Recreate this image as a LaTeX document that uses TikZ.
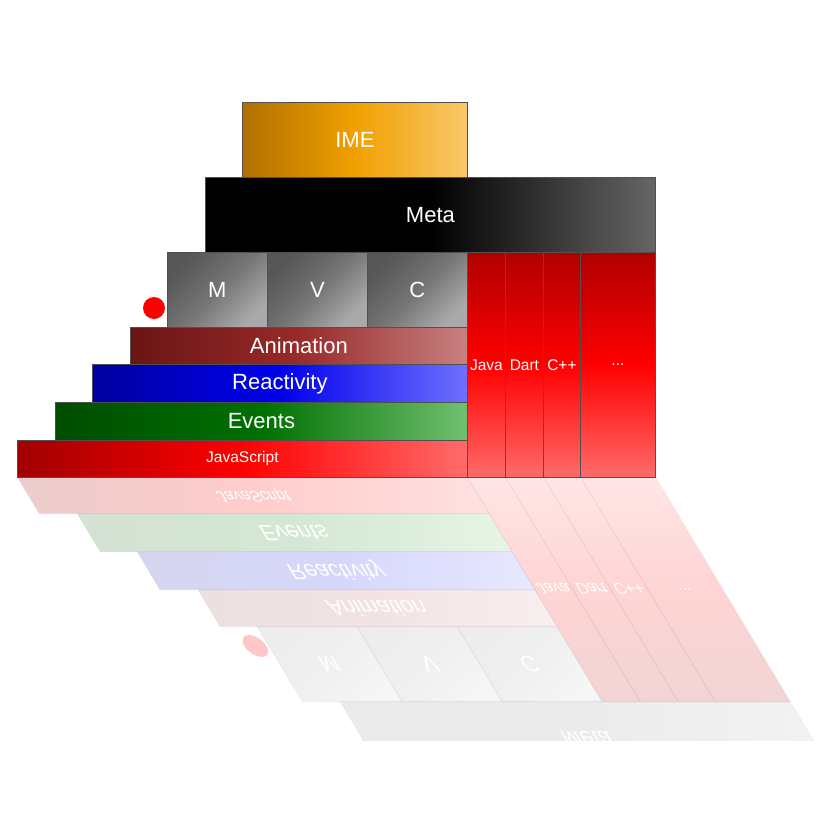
\documentclass[tikz,border=0pt]{standalone}
\usepackage{fontspec}
\setmainfont{Liberation Sans}

\definecolor{boxline}{HTML}{505050}
\definecolor{imeL}{HTML}{B07000}
\definecolor{imeM}{HTML}{F2A000}
\definecolor{imeR}{HTML}{F8C86A}
\definecolor{metaR}{HTML}{666666}
\definecolor{mvcT}{HTML}{575757}
\definecolor{mvcM}{HTML}{747474}
\definecolor{mvcB}{HTML}{AAAAAA}
\definecolor{animL}{HTML}{6A1515}
\definecolor{animM}{HTML}{982A2A}
\definecolor{animR}{HTML}{C88080}
\definecolor{reL}{HTML}{0000A0}
\definecolor{reM}{HTML}{0000EE}
\definecolor{reR}{HTML}{7070FF}
\definecolor{evL}{HTML}{004D00}
\definecolor{evM}{HTML}{007000}
\definecolor{evR}{HTML}{70C070}
\definecolor{jsL}{HTML}{A00000}
\definecolor{jsM}{HTML}{FF0000}
\definecolor{jsR}{HTML}{FF6B6B}
\definecolor{colT}{HTML}{B00000}
\definecolor{colB}{HTML}{FF6B6B}

\tikzset{
  box/.style={draw=boxline, line width=0.8pt, text=white, inner sep=0pt,
    anchor=north west, font=\fontsize{22}{26}\selectfont},
  ime/.style={box, left color=imeL, right color=imeR, middle color=imeM,
    minimum width=225pt, minimum height=75pt},
  meta/.style={box, left color=black, right color=metaR, middle color=black,
    minimum width=450pt, minimum height=75pt},
  mvc/.style={box, top color=mvcT, bottom color=mvcB, middle color=mvcM,
    shading angle=45, minimum width=100pt, minimum height=75pt},
  anim/.style={box, left color=animL, right color=animR, middle color=animM,
    minimum width=337pt, minimum height=37pt},
  react/.style={box, left color=reL, right color=reR, middle color=reM,
    minimum width=375pt, minimum height=38pt},
  events/.style={box, left color=evL, right color=evR, middle color=evM,
    minimum width=412pt, minimum height=38pt},
  js/.style={box, left color=jsL, right color=jsR, middle color=jsM,
    minimum width=450pt, minimum height=37pt, font=\fontsize{15.5}{18}\selectfont},
  lang/.style={box, top color=colT, bottom color=colB, middle color=red,
    minimum height=225pt, text depth=-6pt, font=\fontsize{15.5}{18}\selectfont},
  dot/.style={circle, fill=red, minimum size=22pt, inner sep=0pt},
  refl/.style={fill opacity=#1, draw opacity=0.05, text opacity=1},
}

\newcommand{\stack}[1]{%
  \node[ime] (#1ime) at (242,102) {IME};
  \node[meta] (#1meta) at (205,177) {Meta};
  \node[mvc] (#1m) at (167,252) {M};
  \node[mvc] (#1v) at (267,252) {V};
  \node[mvc] (#1c) at (367,252) {C};
  \node[dot] (#1dot) at (154,308) {};
  \node[anim] (#1anim) at (130,327) {Animation};
  \node[react] (#1react) at (92,364) {Reactivity};
  \node[events] (#1events) at (55,402) {Events};
  \node[js] (#1js) at (17,440) {JavaScript};
  \node[lang, minimum width=38pt] (#1java) at (467,252) {Java};
  \node[lang, minimum width=38pt] (#1dart) at (505,252) {Dart};
  \node[lang, minimum width=37pt] (#1cpp) at (543,252) {C++};
  \node[lang, minimum width=75pt] (#1more) at (580,252) {...};
}

\begin{document}
\begin{tikzpicture}[x=1pt, y=-1pt]
\useasboundingbox (0,0) rectangle (832,832);

\begin{scope}
  \clip (0,477) rectangle (832,740);
  \begin{scope}[cm={1,0,0.6,-1,(286.2pt,-954pt)},
      every node/.append style={transform shape},
      ime/.append style={refl=0.06},
      meta/.append style={refl=0.08},
      mvc/.append style={refl=0.11},
      dot/.append style={refl=0.22},
      anim/.append style={refl=0.13},
      react/.append style={refl=0.16},
      events/.append style={refl=0.17},
      js/.append style={refl=0.2},
      lang/.append style={top color=colB, bottom color=colT, middle color=red, refl=0.17}]
    \stack{r}
  \end{scope}
\end{scope}

\stack{}
\end{tikzpicture}
\end{document}
